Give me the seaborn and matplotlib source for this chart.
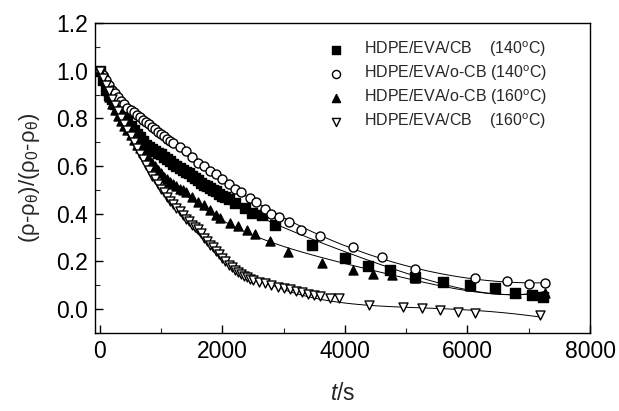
import numpy as np
import pandas as pd
import matplotlib
matplotlib.use("Agg")
import matplotlib.pyplot as plt
import seaborn as sns

# series (t in s, normalised resistivity)
cb140_t = [0, 50, 100, 150, 200, 250, 300, 350, 400, 450, 500, 550, 600, 650, 700,
           750, 800, 850, 900, 950, 1000, 1050, 1100, 1150, 1200, 1250, 1300, 1350,
           1400, 1450, 1500, 1550, 1600, 1650, 1700, 1750, 1800, 1850, 1900, 1950,
           2000, 2050, 2100, 2200, 2370, 2480, 2650, 2860, 3460, 4000, 4370, 4730,
           5140, 5600, 6040, 6450, 6780, 7050, 7240]
cb140_y = [1.0, 0.96, 0.92, 0.90, 0.88, 0.86, 0.84, 0.82, 0.81, 0.79, 0.77, 0.75,
           0.735, 0.72, 0.705, 0.69, 0.68, 0.67, 0.665, 0.655, 0.65, 0.64, 0.63,
           0.62, 0.61, 0.60, 0.59, 0.585, 0.575, 0.57, 0.56, 0.55, 0.54, 0.53, 0.52,
           0.515, 0.51, 0.50, 0.495, 0.485, 0.475, 0.47, 0.46, 0.445, 0.424, 0.403,
           0.396, 0.354, 0.268, 0.214, 0.181, 0.164, 0.136, 0.115, 0.101, 0.087,
           0.066, 0.059, 0.052]

ocb140_t = [0, 50, 100, 150, 200, 250, 300, 350, 400, 450, 500, 550, 600, 650, 700,
            750, 800, 850, 900, 950, 1000, 1050, 1100, 1150, 1200, 1300, 1400, 1500,
            1600, 1700, 1800, 1900, 2000, 2100, 2200, 2300, 2450, 2550, 2700, 2800,
            2920, 3090, 3280, 3600, 4130, 4600, 5150, 6130, 6640, 7000, 7260]
ocb140_y = [1.0, 0.98, 0.96, 0.94, 0.92, 0.905, 0.89, 0.875, 0.86, 0.845, 0.835,
            0.825, 0.815, 0.805, 0.795, 0.785, 0.775, 0.765, 0.755, 0.745, 0.735,
            0.725, 0.715, 0.705, 0.695, 0.68, 0.665, 0.64, 0.615, 0.60, 0.58, 0.565,
            0.545, 0.525, 0.505, 0.49, 0.465, 0.45, 0.42, 0.40, 0.386, 0.364, 0.333,
            0.308, 0.26, 0.218, 0.167, 0.132, 0.118, 0.105, 0.11]

ocb160_t = [0, 50, 100, 150, 200, 250, 300, 350, 400, 450, 500, 550, 600, 650, 700,
            750, 800, 850, 900, 950, 1000, 1050, 1100, 1150, 1200, 1250, 1300, 1350,
            1400, 1500, 1600, 1700, 1800, 1900, 1960, 2120, 2260, 2400, 2530, 2780,
            3075, 3620, 4130, 4450, 4760, 5150, 6040, 6800, 7050, 7270]
ocb160_y = [1.0, 0.96, 0.92, 0.89, 0.86, 0.835, 0.81, 0.79, 0.77, 0.75, 0.73, 0.71,
            0.69, 0.675, 0.66, 0.645, 0.63, 0.615, 0.60, 0.585, 0.57, 0.555, 0.545,
            0.535, 0.525, 0.515, 0.505, 0.50, 0.49, 0.47, 0.45, 0.435, 0.415, 0.395,
            0.382, 0.361, 0.347, 0.333, 0.316, 0.284, 0.241, 0.195, 0.164, 0.147,
            0.143, 0.132, 0.097, 0.069, 0.059, 0.066]

cb160_t = [0, 50, 100, 150, 200, 250, 300, 350, 400, 450, 500, 550, 600, 650, 700,
           750, 800, 850, 900, 950, 1000, 1050, 1100, 1150, 1200, 1250, 1300, 1350,
           1400, 1450, 1500, 1550, 1600, 1650, 1700, 1750, 1800, 1850, 1900, 1950,
           2000, 2050, 2100, 2150, 2200, 2250, 2300, 2350, 2400, 2450, 2500, 2600,
           2700, 2800, 2900, 3000, 3100, 3200, 3300, 3400, 3500, 3600, 3750, 3900,
           4400, 4950, 5250, 5550, 5850, 6130, 7180]
cb160_y = [1.0, 0.97, 0.94, 0.915, 0.88, 0.855, 0.83, 0.80, 0.775, 0.75, 0.725,
           0.70, 0.675, 0.65, 0.63, 0.605, 0.585, 0.56, 0.545, 0.525, 0.505, 0.49,
           0.47, 0.455, 0.44, 0.425, 0.41, 0.395, 0.38, 0.37, 0.355, 0.345, 0.335,
           0.32, 0.30, 0.285, 0.27, 0.26, 0.245, 0.23, 0.215, 0.20, 0.185, 0.175,
           0.165, 0.155, 0.148, 0.14, 0.134, 0.128, 0.123, 0.115, 0.108, 0.10,
           0.095, 0.088, 0.083, 0.077, 0.07, 0.062, 0.058, 0.055, 0.048, 0.045,
           0.017, 0.01, 0.003, -0.004, -0.011, -0.015, -0.025]

labels = ["HDPE/EVA/CB    (140$^{\\mathregular{o}}$C)",
          "HDPE/EVA/o-CB (140$^{\\mathregular{o}}$C)",
          "HDPE/EVA/o-CB (160$^{\\mathregular{o}}$C)",
          "HDPE/EVA/CB    (160$^{\\mathregular{o}}$C)"]

sns.set_theme(style="ticks")
plt.rcParams.update({
    "font.family": ["Liberation Sans", "DejaVu Sans"],
    "mathtext.fontset": "custom",
    "mathtext.rm": "Liberation Sans",
    "mathtext.it": "Liberation Sans:italic",
    "xtick.direction": "in",
    "ytick.direction": "in",
    "axes.linewidth": 1.0,
})

fig = plt.figure(figsize=(6.19, 4.11), dpi=100)
ax = fig.add_axes([95 / 619, 1 - 333 / 411, 495 / 619, 310 / 411])

series = [
    (cb140_t, cb140_y, "s", "black", "black"),
    (ocb140_t, ocb140_y, "o", "white", "black"),
    (ocb160_t, ocb160_y, "^", "black", "black"),
    (cb160_t, cb160_y, "v", "white", "black"),
]

for (t, y, mk, fc, ec), lab in zip(series, labels):
    df = pd.DataFrame({"t": t, "y": y})
    sns.regplot(data=df, x="t", y="y", order=4, ci=None, scatter=False, ax=ax,
                line_kws={"color": "black", "lw": 0.7})
    sns.scatterplot(data=df, x="t", y="y", marker=mk, s=42, color=fc,
                    edgecolor=ec, linewidth=1.0, ax=ax, label=lab, zorder=3)

ax.set_xlim(-80, 8000)
ax.set_ylim(-0.1, 1.2)
ax.set_xticks([0, 2000, 4000, 6000, 8000])
ax.set_xticks(np.arange(1000, 8000, 2000), minor=True)
ax.set_yticks(np.arange(0, 1.21, 0.2))
ax.set_yticks(np.arange(-0.1, 1.2, 0.2), minor=True)
ax.yaxis.set_major_formatter(matplotlib.ticker.FormatStrFormatter("%.1f"))
ax.tick_params(which="major", length=6, width=1.0, labelsize=16.5, colors="black",
               top=False, right=False, pad=5)
ax.tick_params(which="minor", length=3.5, width=0.8, top=False, right=False)
for sp in ax.spines.values():
    sp.set_visible(True)
    sp.set_color("black")

ax.set_xlabel("$\\it{t}$/s", fontsize=16.5, labelpad=14)
ax.set_ylabel("(ρ-ρ$_\\mathregular{θ}$)/(ρ$_\\mathregular{0}$-ρ$_\\mathregular{θ}$)",
              fontsize=16, labelpad=10)

ax.legend(loc="upper right", frameon=False, fontsize=11.5, handletextpad=0.75,
          borderaxespad=0.65, labelspacing=0.27, markerscale=0.9,
          bbox_to_anchor=(0.947, 1.0))

fig.savefig("out.png", dpi=100)
